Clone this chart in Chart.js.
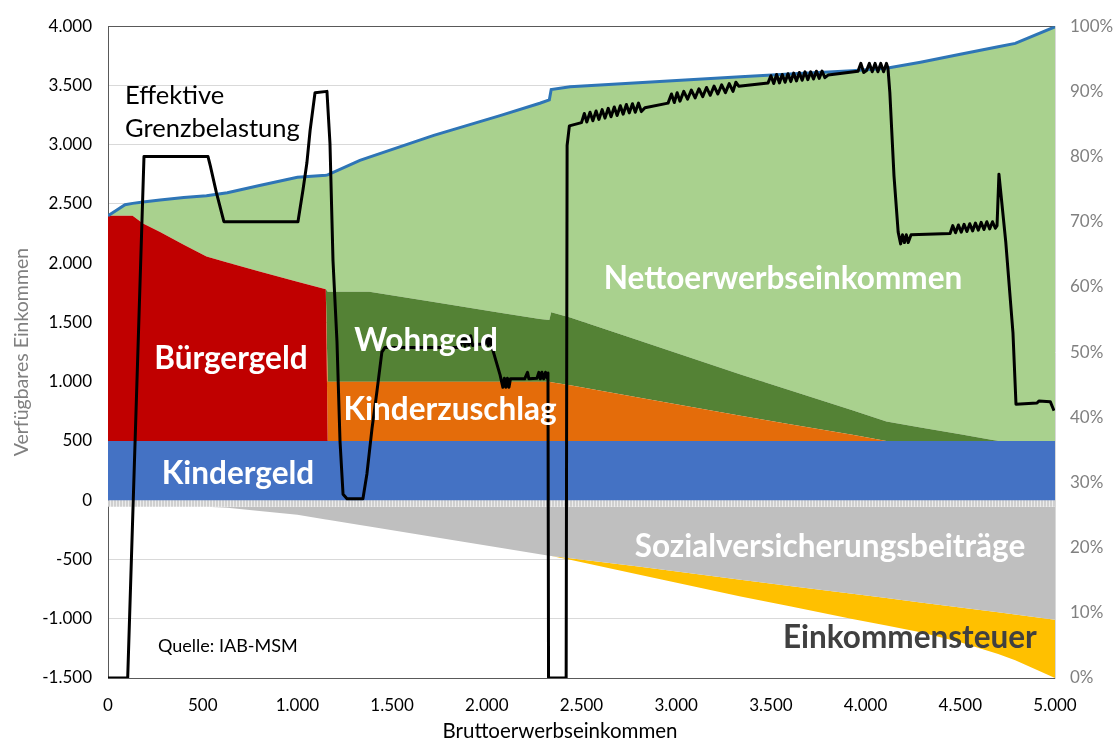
<!DOCTYPE html>
<html>
<head>
<meta charset="utf-8">
<script src="https://cdn.jsdelivr.net/npm/chart.js@4"></script>
<style>
  body { margin: 0; background: #fff; }
  #wrap { width: 1120px; height: 740px; }
</style>
</head>
<body>
<div id="wrap"><canvas id="chart" width="1120" height="740"></canvas></div>
<script>
const xs = [0, 90, 130, 185, 275, 400, 520, 630, 800, 1000, 1150, 1160, 1330, 1380, 1720, 2070,
            2280, 2330, 2340, 2440, 2800, 3340, 3600, 3930, 4110, 4290, 4500, 4700, 4790, 5000];

const kindergeld     = xs.map(() => 500);
const buergergeld    = [1900, 1900, 1900, 1835, 1764, 1656, 1557, 1507, 1430, 1344, 1280,
                        0, 0, 0, 0, 0, 0, 0, 0, 0, 0, 0, 0, 0, 0, 0, 0, 0, 0, 0];
const kinderzuschlag = [0, 0, 0, 0, 0, 0, 0, 0, 0, 0, 0,
                        500, 500, 500, 500, 500, 500, 500, 495, 470, 367, 213, 142, 52, 0, 0, 0, 0, 0, 0];
const wohngeld       = [0, 0, 0, 0, 0, 0, 0, 0, 0, 0, 0,
                        760, 760, 760, 673, 583, 529, 520, 592, 573, 483, 349, 286, 207, 165, 113, 56, 0, 0, 0];
const netto          = [0, 93, 105, 181, 269, 398, 513, 588, 726, 882, 962,
                        985, 1108, 1135, 1406, 1662, 1821, 1858, 1879, 1946, 2173, 2511, 2668, 2866, 2980, 3083, 3207, 3326, 3355, 3495];
const verfuegbar     = [2400, 2493, 2505, 2516, 2533, 2554, 2570, 2595, 2656, 2726, 2742,
                        2745, 2868, 2895, 3079, 3245, 3350, 3378, 3466, 3489, 3523, 3573, 3596, 3625, 3645, 3696, 3763, 3826, 3855, 3995];
// thin striped band just below zero
const saum           = xs.map(() => -55);
const sozialvers     = [0, 0, 0, 0, 0, 0, 0, -9, -36, -68, -107,
                        -109, -153, -166, -255, -346, -401, -414, -415, -435, -505, -615, -668, -735, -771, -808, -851, -891, -910, -953];
const steuer         = [0, 0, 0, 0, 0, 0, 0, 0, 0, 0, 0, 0, 0, 0, 0, 0, 0, 0, 0,
                        -12, -66, -142, -172, -212, -232, -252, -292, -352, -385, -492];

// Effektive Grenzbelastung in % (right axis)
const gbX = [0, 104, 190, 528, 540, 572, 612, 1003, 1030, 1050, 1067, 1093, 1156, 1172, 1188, 1209, 1225, 1241, 1262, 1346,
  1367, 1394, 1420, 1446, 1462, 1860, 1875, 1885, 1895, 1905, 1915, 1925, 1940, 1990, 2000, 2008, 2018, 2027, 2045, 2070,
  2085, 2093, 2101, 2109, 2117, 2125, 2200, 2215, 2222, 2265, 2275, 2283, 2291, 2300, 2310, 2318, 2323, 2326, 2419, 2424,
  2436, 2500, 2515, 2528, 2545, 2560, 2577, 2592, 2609, 2624, 2641, 2656, 2673, 2688, 2705, 2720, 2737, 2752, 2769, 2784,
  2801, 2816, 2835, 2957, 2975, 2990, 3005, 3020, 3040, 3060, 3080, 3100, 3120, 3140, 3160, 3180, 3200, 3220, 3240, 3260,
  3280, 3300, 3315, 3330, 3485, 3500, 3515, 3530, 3545, 3560, 3575, 3590, 3605, 3620, 3635, 3650, 3665, 3680, 3695, 3710,
  3725, 3740, 3755, 3770, 3785, 3802, 3960, 3975, 3990, 4005, 4020, 4035, 4050, 4065, 4080, 4095, 4110, 4118, 4128, 4150,
  4172, 4185, 4195, 4205, 4215, 4225, 4240, 4446, 4460, 4475, 4490, 4505, 4520, 4535, 4550, 4565, 4580, 4595, 4610, 4625,
  4640, 4655, 4670, 4685, 4694, 4704, 4740, 4778, 4794, 4905, 4915, 4975, 4995];
const gbY = [0, 0, 80, 80, 78.6, 74.5, 70, 70, 75, 79, 84, 89.8, 90, 82, 64, 51.6, 36.3, 28.2, 27.5, 27.5,
  31.3, 38.3, 44, 50, 50.7, 50.7, 52.3, 50.9, 52.5, 51, 52.5, 51, 51.2, 51.2, 52.5, 51, 52.3, 50.8, 49, 46.5,
  44.6, 46, 44.6, 46, 44.6, 45.9, 45.9, 46.9, 45.9, 46, 46.9, 45.9, 46.9, 45.9, 46.9, 46, 46.8, 0, 0, 81.7,
  84.7, 85.2, 86.6, 85.3, 86.8, 85.5, 87, 85.7, 87.2, 85.9, 87.4, 86.1, 87.6, 86.3, 87.8, 86.5, 88, 86.7, 88.1, 86.8,
  88.2, 86.9, 87.5, 88.2, 89.6, 88.3, 89.8, 88.5, 90, 88.8, 90.2, 89, 90.4, 89.2, 90.6, 89.4, 90.8, 89.6, 91, 89.8,
  91.2, 90, 91.4, 90.8, 91.3, 92.4, 91.2, 92.6, 91.3, 92.6, 91.4, 92.7, 91.5, 92.8, 91.6, 92.9, 91.7, 93, 91.8, 93,
  91.9, 93.1, 92, 93.1, 92.1, 92.5, 93.1, 94.3, 92.9, 93.2, 94.3, 93, 94.3, 93, 94.3, 93, 94.3, 93.6, 89.8, 77,
  68.4, 66.6, 68, 66.8, 68, 66.8, 68, 68.2, 69.4, 68.3, 69.5, 68.4, 69.6, 68.5, 69.7, 68.6, 69.8, 68.7, 69.9, 68.8,
  70, 68.9, 70, 69, 69.4, 77.3, 66.9, 53, 42, 42.2, 42.5, 42.4, 41];

// Beschriftungen im Diagramm (Position in Datenkoordinaten)
const areaLabels = [
  { text: 'Bürgergeld', x: 649, y: 1191, color: '#ffffff', bold: true, align: 'center' },
  { text: 'Kindergeld', x: 686, y: 226, color: '#ffffff', bold: true, align: 'center' },
  { text: 'Wohngeld', x: 1679, y: 1342, color: '#ffffff', bold: true, align: 'center' },
  { text: 'Kinderzuschlag', x: 1806, y: 763, color: '#ffffff', bold: true, align: 'center' },
  { text: 'Nettoerwerbseinkommen', x: 3564, y: 1870, color: '#ffffff', bold: true, align: 'center' },
  { text: 'Sozialversicherungsbeiträge', x: 3812, y: -394, color: '#ffffff', bold: true, align: 'center' },
  { text: 'Einkommensteuer', x: 4234, y: -1157, color: '#404040', bold: true, align: 'center' },
  { text: 'Effektive', x: 90, y: 3415, color: '#000000', bold: false, align: 'left', size: 25.5 },
  { text: 'Grenzbelastung', x: 90, y: 3138, color: '#000000', bold: false, align: 'left', size: 25.5 },
  { text: 'Quelle: IAB-MSM', x: 264, y: -1233, color: '#000000', bold: false, align: 'left', size: 18 }
];

function deNum(v) {
  const s = String(Math.abs(v)).replace(/\B(?=(\d{3})+(?!\d))/g, '.');
  return (v < 0 ? '-' : '') + s;
}

function pts(vals) {
  return xs.map((x, i) => ({ x: x, y: vals[i] }));
}

// striped pattern for the band below zero
function stripePattern() {
  const c = document.createElement('canvas');
  c.width = 3; c.height = 4;
  const g = c.getContext('2d');
  g.fillStyle = '#cfcfcf'; g.fillRect(0, 0, 2, 4);
  g.fillStyle = '#ececec'; g.fillRect(2, 0, 1, 4);
  return g.createPattern(c, 'repeat');
}

function area(label, vals, color, fill, stack) {
  return {
    label: label, data: pts(vals), backgroundColor: color, borderWidth: 0,
    pointRadius: 0, fill: fill, stack: stack, yAxisID: 'y', order: 2
  };
}

const labelPlugin = {
  id: 'areaLabels',
  afterDatasetsDraw(chart) {
    const { ctx, scales, chartArea } = chart;
    ctx.save();
    ctx.textBaseline = 'middle';
    areaLabels.forEach(l => {
      const size = l.size || 31.5;
      ctx.font = (l.bold ? 'bold ' : '') + size + 'px Lato';
      ctx.fillStyle = l.color;
      ctx.textAlign = l.align;
      ctx.fillText(l.text, scales.x.getPixelForValue(l.x), scales.y.getPixelForValue(l.y));
    });
    // axis titles, placed like Excel does
    ctx.font = '20.5px Lato';
    ctx.fillStyle = '#000';
    ctx.textAlign = 'center';
    ctx.fillText('Bruttoerwerbseinkommen', chart.width / 2, 731);

    ctx.translate(22, (chartArea.top + chartArea.bottom) / 2);
    ctx.rotate(-Math.PI / 2);
    ctx.font = '19.5px Lato';
    ctx.fillStyle = '#808080';
    ctx.fillText('Verfügbares Einkommen', 0, 0);
    ctx.restore();
  }
};

new Chart(document.getElementById('chart'), {
  type: 'line',
  data: {
    datasets: [
      area('Kindergeld', kindergeld, '#4472C4', 'origin', 'pos'),
      area('Bürgergeld', buergergeld, '#C00000', '-1', 'pos'),
      area('Kinderzuschlag', kinderzuschlag, '#E46C0A', '-1', 'pos'),
      area('Wohngeld', wohngeld, '#548235', '-1', 'pos'),
      area('Nettoerwerbseinkommen', netto, '#A9D18E', '-1', 'pos'),
      area('Saum', saum, stripePattern(), 'origin', 'neg'),
      area('Sozialversicherungsbeiträge', sozialvers, '#BFBFBF', '-1', 'neg'),
      area('Einkommensteuer', steuer, '#FFC000', '-1', 'neg'),
      {
        label: 'Verfügbares Einkommen', data: pts(verfuegbar), borderColor: '#2E75B6',
        borderWidth: 3, pointRadius: 0, fill: false, stack: 'total', yAxisID: 'y', order: 1
      },
      {
        label: 'Effektive Grenzbelastung', data: gbX.map((x, i) => ({ x: x, y: gbY[i] })),
        borderColor: '#000000', borderWidth: 3, pointRadius: 0, fill: false,
        yAxisID: 'y2', order: 0, borderJoinStyle: 'round'
      }
    ]
  },
  options: {
    responsive: false,
    animation: false,
    layout: { padding: { top: 23, left: 0, right: 0, bottom: 0 } },
    plugins: { legend: { display: false }, tooltip: { enabled: false } },
    scales: {
      x: {
        type: 'linear', min: 0, max: 5000,
        ticks: { stepSize: 500, color: '#000', font: { family: 'Lato', size: 17 }, padding: 9,
                 callback: v => deNum(v) },
        grid: { display: false },
        border: { display: true, color: '#595959', width: 1 },
        afterFit: s => { s.height = 62; }
      },
      y: {
        stacked: true, min: -1500, max: 4000,
        ticks: { stepSize: 500, color: '#000', font: { family: 'Lato', size: 17 }, padding: 16,
                 callback: v => deNum(v) },
        grid: { color: c => (c.tick && (c.tick.value === 4000 || c.tick.value === -1500)) ? '#595959' : '#d9d9d9',
                drawTicks: false },
        border: { display: true, color: '#595959' },
        afterFit: s => { s.width = 108; }
      },
      y2: {
        position: 'right', min: 0, max: 100,
        ticks: { stepSize: 10, color: '#808080', font: { family: 'Lato', size: 17 }, padding: 15,
                 callback: v => v + '%' },
        grid: { display: false, drawTicks: false },
        border: { display: true, color: '#d9d9d9' },
        afterFit: s => { s.width = 65; }
      }
    }
  },
  plugins: [labelPlugin]
});
</script>
</body>
</html>
